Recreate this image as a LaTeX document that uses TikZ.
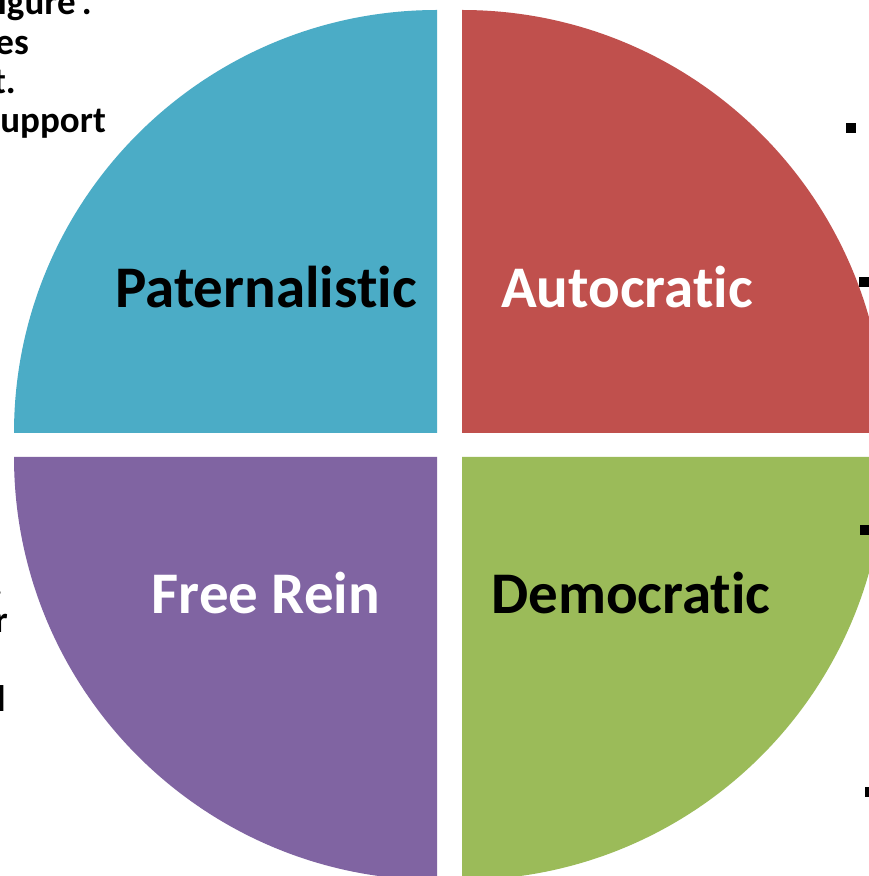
\documentclass[tikz,border=0pt]{standalone}
\usepackage{fontspec}
\setmainfont{Carlito}[Ligatures=NoCommon]
\definecolor{quadTeal}{HTML}{4BACC6}
\definecolor{quadRed}{HTML}{C0504D}
\definecolor{quadPurple}{HTML}{8064A2}
\definecolor{quadGreen}{HTML}{9BBB59}
\begin{document}
\begin{tikzpicture}[x=1pt,y=1pt,
  quadlabel/.style={font=\fontsize{59}{64}\selectfont\bfseries, anchor=base, inner sep=0pt},
  sidetext/.style={font=\fontsize{37}{41}\selectfont\bfseries, anchor=base east, inner sep=0pt, text=black},
  bulletsq/.style={fill=black, draw=none, minimum size=10pt, inner sep=0pt}]
\useasboundingbox (0,0) rectangle (869,876);
\fill[white] (0,0) rectangle (869,876);
% four quarter discs, separated by a white cross
\def\rad{423}
\fill[quadTeal]   (437,443) -- ++(0,\rad) arc[start angle=90, end angle=180, radius=\rad] -- cycle;
\fill[quadRed]    (462,443) -- ++(\rad,0) arc[start angle=0, end angle=90, radius=\rad] -- cycle;
\fill[quadPurple] (437,419) -- ++(-\rad,0) arc[start angle=180, end angle=270, radius=\rad] -- cycle;
\fill[quadGreen]  (462,419) -- ++(0,-\rad) arc[start angle=270, end angle=360, radius=\rad] -- cycle;
% quadrant labels
\node[quadlabel, text=black] (pat) at (266,568) {Paternalistic};
\node[quadlabel, text=white] (aut) at (627,568) {Autocratic};
\node[quadlabel, text=white] (fre) at (266,262) {Free Rein};
\node[quadlabel, text=black] (dem) at (631,262) {Democratic};
% text running off the left edge
\node[sidetext] (l1) at (92,861) {igure’.};
\node[sidetext] (l2) at (29,821) {es};
\node[sidetext] (l3) at (16,782) {t.};
\node[sidetext] (l4) at (106,743) {upport};
\node[sidetext] (l5) at (3,280) {.};
\node[sidetext] (l6) at (8,243) {r};
\node[sidetext] (l7) at (6,164) {l};
% bullet marks running off the right edge
\node[bulletsq] (b1) at (851,748) {};
\node[bulletsq] (b2) at (864,594) {};
\node[bulletsq] (b3) at (865,346) {};
\node[bulletsq] (b4) at (870,84) {};
\end{tikzpicture}
\end{document}
